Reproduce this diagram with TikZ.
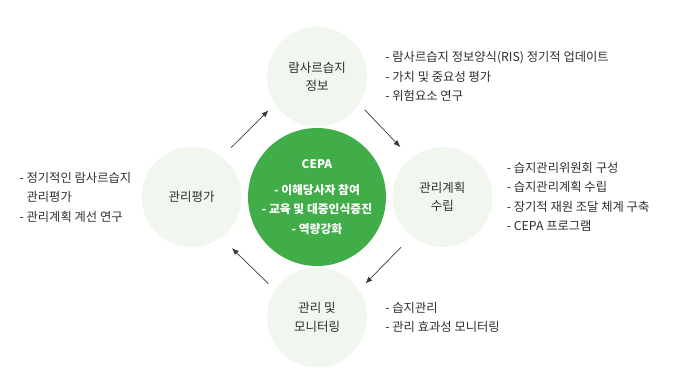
\documentclass[tikz,border=0pt]{standalone}
\usepackage{fontspec}
\setmainfont{Noto Sans CJK KR}
\usetikzlibrary{positioning,arrows.meta}
\definecolor{groen}{HTML}{41AD49}
\definecolor{licht}{HTML}{F1F6EF}
\definecolor{tekst}{HTML}{2E2E2E}
\definecolor{lijn}{HTML}{3A3A3A}

\begin{document}
\begin{tikzpicture}[
        x=1pt, y=1pt,
        text=tekst,
        font=\fontsize{12.3}{19.5}\selectfont,
        stap/.style={circle, fill=licht, minimum size=100pt, inner sep=0pt, align=center, font=\fontsize{12.5}{18.5}\selectfont},
        kern/.style={circle, fill=groen, minimum size=138pt, inner sep=0pt, align=center, text=white, font=\fontsize{11.8}{19.5}\selectfont\bfseries},
        lijst/.style={inner sep=0pt, align=left},
        pijl/.style={draw=lijn, line width=0.7pt, -{Latex[length=7pt,width=5.5pt]}}
    ]
        \useasboundingbox (0,0) rectangle (678,383);
        \node[kern] (cepa) at (317,186) {CEPA\\[6pt]- 이해당사자 참여\\- 교육 및 대중인식증진\\- 역량강화};
        \node[stap, above=1pt of cepa] (info) {람사르습지\\정보};
        \node[stap, right=6pt of cepa] (plan) {관리계획\\수립};
        \node[stap, below=1pt of cepa] (monitor) {관리 및\\모니터링};
        \node[stap, left=6pt of cepa] (eval) {관리평가};
        \node[lijst, right=18pt of info] (info-l) {- 람사르습지 정보양식(RIS) 정기적 업데이트\\- 가치 및 중요성 평가\\- 위험요소 연구};
        \node[lijst, right=14pt of plan] (plan-l) {- 습지관리위원회 구성\\- 습지관리계획 수립\\- 장기적 재원 조달 체계 구축\\- CEPA 프로그램};
        \node[lijst, right=18pt of monitor] (monitor-l) {- 습지관리\\- 관리 효과성 모니터링};
        \node[lijst, left=10pt of eval] (eval-l) {- 정기적인 람사르습지\\\hphantom{- }관리평가\\- 관리계획 계선 연구};
        \draw[pijl, shorten <=13pt, shorten >=9pt] (eval.53) -- (info.213);
        \draw[pijl, shorten <=8pt, shorten >=15pt] (info.327) -- (plan.129);
        \draw[pijl, shorten <=15pt, shorten >=9pt] (plan.232) -- (monitor.33);
        \draw[pijl, shorten <=9pt, shorten >=15pt] (monitor.147) -- (eval.306);
    \end{tikzpicture}
\end{document}
